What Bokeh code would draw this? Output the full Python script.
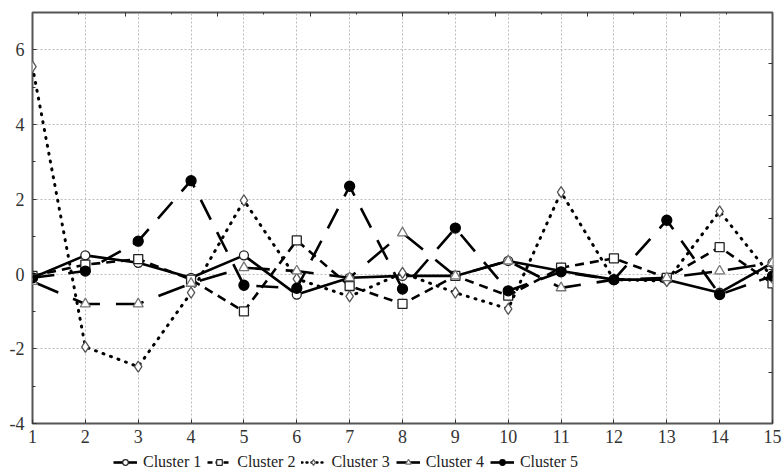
from bokeh.plotting import figure
from bokeh.layouts import column
from bokeh.models import Range1d, LinearAxis, Legend, LegendItem, FixedTicker
from bokeh.embed import file_html
from bokeh.resources import INLINE

x = list(range(1, 16))
cluster1 = [-0.1, 0.5, 0.3, -0.1, 0.5, -0.55, -0.1, -0.05, -0.05, 0.35, 0.08, -0.15, -0.15, -0.5, 0.3]
cluster2 = [-0.05, 0.25, 0.4, -0.15, -1.0, 0.9, -0.32, -0.8, -0.05, -0.58, 0.17, 0.42, -0.1, 0.72, -0.25]
cluster3 = [5.55, -1.95, -2.48, -0.5, 1.97, -0.13, -0.6, 0.03, -0.5, -0.93, 2.19, -0.15, -0.19, 1.68, -0.1]
cluster4 = [-0.2, -0.8, -0.8, -0.25, 0.17, 0.08, -0.1, 1.1, -0.05, 0.35, -0.37, -0.15, -0.1, 0.08, 0.3]
cluster5 = [-0.1, 0.08, 0.88, 2.5, -0.3, -0.38, 2.35, -0.4, 1.23, -0.45, 0.06, -0.15, 1.44, -0.55, -0.05]
labels = ["Cluster 1", "Cluster 2", "Cluster 3", "Cluster 4", "Cluster 5"]
y_ticks = [-4, -2, 0, 2, 4, 6]
y_tick_labels = ["-4", "-2", "0", "2", "4", "6"]
y_minor = [-3, -1, 1, 3, 5]

FONT = "'Liberation Serif', 'Times New Roman', serif"
W = 782

p = figure(width=W, height=445, x_range=Range1d(1, 15), y_range=Range1d(-4, 7),
           output_backend="svg", toolbar_location=None,
           min_border_left=32, min_border_top=12, min_border_right=10, min_border_bottom=0,
           background_fill_color="white", border_fill_color="white")
p.outline_line_color = "#555555"
p.outline_line_width = 2

p.xaxis.ticker = FixedTicker(ticks=x)
p.yaxis.ticker = FixedTicker(ticks=y_ticks, minor_ticks=y_minor)
p.yaxis.major_label_overrides = {t: s for t, s in zip(y_ticks, y_tick_labels)}
for ax in (p.xaxis[0], p.yaxis[0]):
    ax.axis_line_color = None
    ax.major_tick_out = 0
    ax.major_tick_in = 4
    ax.minor_tick_out = 0
    ax.minor_tick_in = 3
    ax.major_tick_line_color = "#333333"
    ax.minor_tick_line_color = "#333333"
    ax.major_label_text_font = FONT
    ax.major_label_text_font_size = "18px"
    ax.major_label_text_color = "#333333"
p.xaxis.major_label_standoff = 6
p.yaxis.major_label_standoff = 8

p.xgrid.ticker = FixedTicker(ticks=x)
p.ygrid.ticker = FixedTicker(ticks=y_ticks)
for g in (p.xgrid[0], p.ygrid[0]):
    g.grid_line_color = "#bbbbbb"
    g.grid_line_dash = "2 2"
    g.grid_line_width = 1

# secondary unlabeled axes (top and right)
p.extra_x_ranges = {"top": Range1d(0, 16)}
p.extra_y_ranges = {"right": Range1d(0, 8)}
top_major = [2, 4, 6, 8, 10, 12, 14]
right_major = [1, 2, 3, 4, 5, 6, 7]
top = LinearAxis(x_range_name="top", ticker=FixedTicker(ticks=top_major, minor_ticks=[1, 3, 5, 7, 9, 11, 13, 15]))
right = LinearAxis(y_range_name="right", ticker=FixedTicker(ticks=right_major))
top.major_label_overrides = {t: "" for t in top_major}
right.major_label_overrides = {t: "" for t in right_major}
for ax in (top, right):
    ax.axis_line_color = None
    ax.major_tick_out = 0
    ax.major_tick_in = 4
    ax.minor_tick_out = 0
    ax.minor_tick_in = 2
    ax.major_tick_line_color = "#333333"
    ax.minor_tick_line_color = "#333333"
    ax.major_label_standoff = 0
p.add_layout(top, "above")
p.add_layout(right, "right")

series = [cluster1, cluster2, cluster3, cluster4, cluster5]
dashes = ["solid", "9 6", "1 7", "28 16", "22 14"]
markers = ["circle", "square", "diamond", "triangle", "circle"]
fills = ["white", "white", "white", "white", "black"]
mline = ["#222222", "#222222", "#555555", "#777777", "#000000"]
msize = [9, 9, 11, 10, 10]

for i, ys in enumerate(series):
    p.line(x, ys, line_color="black", line_width=3 if i == 2 else 2.6,
           line_dash=dashes[i], line_cap="round" if i == 2 else "butt")
    p.scatter(x, ys, marker=markers[i], size=msize[i], fill_color=fills[i],
              line_color=mline[i], line_width=1.3)

# legend strip below the chart (same series drawn out of view, used only for legend glyphs)
lg = figure(width=W, height=27, x_range=Range1d(1, 15), y_range=Range1d(100, 101),
            output_backend="svg", toolbar_location=None, x_axis_type=None, y_axis_type=None,
            min_border_left=32, min_border_right=10, min_border_top=0, min_border_bottom=0,
            border_fill_color="white", background_fill_color="white")
lg.outline_line_color = None
lg.xgrid.visible = False
lg.ygrid.visible = False
legend_dashes = ["solid", "5 3", "1 4", "solid", "solid"]
items = []
for i, ys in enumerate(series):
    ln = lg.line(x, ys, line_color="black", line_width=2.6 if i != 2 else 2.4,
                 line_dash=legend_dashes[i], line_cap="round" if i == 2 else "butt")
    sc = lg.scatter(x, ys, marker=markers[i], size=7, fill_color=fills[i],
                    line_color=mline[i], line_width=1.2)
    items.append(LegendItem(label=labels[i], renderers=[ln, sc]))

legend = Legend(items=items, orientation="horizontal", location=(81, 1),
                label_text_font=FONT, label_text_font_size="16px", label_text_color="#222222",
                glyph_width=24, glyph_height=14, label_standoff=6, spacing=6,
                padding=0, margin=0, border_line_color=None, background_fill_alpha=0,
                label_height=16)
lg.add_layout(legend, "center")

layout = column(p, lg, spacing=0)
open("out.html", "w").write(file_html(layout, INLINE))
